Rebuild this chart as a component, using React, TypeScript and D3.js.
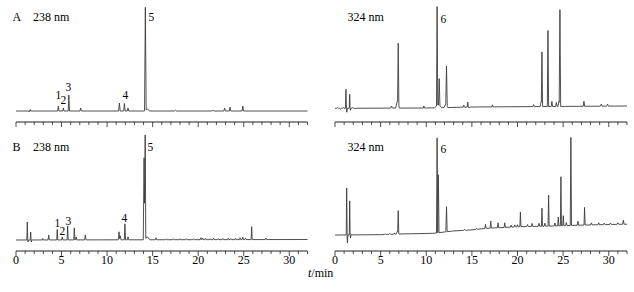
import React from "react";
import * as d3 from "d3";

// ---- data: peaks as [retention time (min), height (signal units), half width (min)] ----
const peaksA238: [number, number, number][] = [
  [1.45, -1, 0.08], [1.55, 1.5, 0.06],
  [4.65, 5, 0.07], [5.2, 3, 0.07], [5.8, 16, 0.07], [7.1, 3, 0.08],
  [11.35, 8, 0.09], [11.9, 7.5, 0.08], [12.3, 3, 0.08],
  [14.2, 103, 0.09], [14.4, 2, 0.3],
  [17.5, 0.8, 0.1], [21.6, 1, 0.1], [22.9, 3, 0.08], [23.5, 4, 0.08], [24.9, 5, 0.08],
];
const baseA238: [number, number][] = [[0, 0], [32, 0]];

const peaksA324: [number, number, number][] = [
  [0.3, 0.8, 0.1], [0.6, -0.8, 0.1], [0.9, 0.8, 0.1],
  [1.2, 19, 0.05], [1.3, -4, 0.05], [1.61, 14, 0.05], [1.7, -2, 0.05], [1.95, 0.8, 0.1], [2.2, -0.6, 0.1],
  [6.2, 2, 0.1], [6.85, 8, 0.2], [6.93, 60, 0.07],
  [9.74, 2, 0.06],
  [11.3, 3, 0.4], [11.19, 99, 0.07], [11.42, 27, 0.08],
  [12.15, 4, 0.2], [12.22, 39, 0.08],
  [14.11, 2, 0.07], [14.55, 5, 0.07], [14.7, -1, 0.1],
  [17.25, 2, 0.07], [21.77, 2, 0.08],
  [22.6, 5, 0.12], [22.68, 53, 0.07], [23.34, 76, 0.07], [23.77, 5, 0.08], [24.26, 4, 0.08],
  [24.55, 5, 0.12], [24.65, 96, 0.08], [27.28, 5, 0.08], [29.18, 2, 0.1], [29.87, 2, 0.1],
];
const baseA324: [number, number][] = [[0, 0], [10, 0.3], [15, 1.3], [32, 2.3]];

const peaksB238: [number, number, number][] = [
  [1.24, 18, 0.05], [1.32, -2, 0.05], [1.61, 8, 0.05], [1.68, -2, 0.05],
  [2.93, 1.5, 0.06], [3.59, 5, 0.07], [4.53, 10.5, 0.06], [5.08, 3, 0.06], [5.67, 14, 0.06],
  [6.4, 12, 0.06], [6.6, 3, 0.08], [7.61, 5, 0.08],
  [11.31, 8, 0.08], [11.45, 4, 0.08], [11.96, 16, 0.07], [12.3, 3, 0.08],
  [14.06, 82, 0.09], [14.18, 104, 0.07], [14.4, 3, 0.3],
  [15.37, 2, 0.08], [16.5, 1, 0.08], [17.3, 1, 0.08], [18.0, 1, 0.08], [18.7, 1, 0.08],
  [19.5, 1, 0.08], [20.3, 2, 0.08], [20.5, 1.5, 0.08], [20.8, 1.5, 0.08], [21.3, 1, 0.08],
  [21.7, 1.5, 0.08], [22.2, 1, 0.08], [22.7, 1.2, 0.08], [23.3, 1.5, 0.08], [23.6, 1, 0.08],
  [24.1, 1.5, 0.08], [24.6, 2, 0.08], [24.9, 2.5, 0.08], [25.2, 1.5, 0.08],
  [25.87, 13, 0.06], [27.44, 1.5, 0.08],
];
const baseB238: [number, number][] = [[0, 0], [32, 0.5]];

const peaksB324: [number, number, number][] = [
  [1.28, 47, 0.05], [1.36, -8, 0.05], [1.61, 34, 0.05], [1.7, -3, 0.05],
  [5.5, 0.8, 0.1], [6.0, 1, 0.1], [6.5, 1.2, 0.1],
  [6.85, 3, 0.15], [6.93, 22, 0.06],
  [11.19, 95, 0.07], [11.33, 58, 0.07], [12.22, 25, 0.07],
  [14.2, 1, 0.1], [15.5, 1, 0.1], [16.49, 4, 0.07], [17.07, 7, 0.07], [17.87, 5, 0.07],
  [18.6, 4.6, 0.07], [19.3, 2, 0.08], [19.7, 2, 0.08], [20.0, 2, 0.08], [20.32, 14.7, 0.06],
  [21.1, 2, 0.08], [21.6, 3, 0.08], [22.35, 3, 0.08], [22.68, 18, 0.06], [23.0, 3, 0.08],
  [23.41, 31, 0.06], [24.1, 3, 0.08], [24.47, 8.7, 0.06], [24.76, 49, 0.06], [25.02, 10, 0.06],
  [25.35, 3, 0.08], [25.85, 88, 0.07], [26.62, 4, 0.08], [27.35, 17.7, 0.06],
  [28.1, 2, 0.08], [28.9, 2, 0.08], [29.5, 1.5, 0.1], [30.2, 1.5, 0.1], [31.0, 1.5, 0.1], [31.6, 4, 0.08],
];
const baseB324: [number, number][] = [
  [0, 0], [5, 0.3], [7, 1], [10.8, 1.7], [12.9, 4], [14.8, 5], [16.6, 6.7],
  [20.2, 8.3], [23.9, 9], [27.5, 10], [31.2, 10.7], [32, 10.8],
];

const tickLabels = [0, 5, 10, 15, 20, 25, 30];
const timeDomain: [number, number] = [0, 32];

const peakLabelsA238 = [
  { text: "1", t: 4.45 }, { text: "2", t: 5.0 }, { text: "3", t: 5.6 }, { text: "4", t: 11.75 }, { text: "5", t: 14.65 },
];

type Panel = {
  peaks: [number, number, number][];
  base: [number, number][];
  x0: number; x1: number; baseY: number; axisY: number;
};

function buildTrace(peaks: [number, number, number][], base: [number, number][]) {
  const baseFn = d3.scaleLinear().domain(base.map((b) => b[0])).range(base.map((b) => b[1])).clamp(true);
  const ts = new Set<number>([timeDomain[0], timeDomain[1], ...base.map((b) => b[0])]);
  peaks.forEach(([t, , w]) => { ts.add(t - w); ts.add(t); ts.add(t + w); });
  const sorted = Array.from(ts).filter((t) => t >= 0 && t <= 32).sort((a, b) => a - b);
  return sorted.map((t) => {
    let v = baseFn(t);
    peaks.forEach(([pt, h, w]) => {
      const d = Math.abs(t - pt);
      if (d < w) v += h * (1 - d / w);
    });
    return [t, v] as [number, number];
  });
}

function Trace({ p }: { p: Panel }) {
  const x = d3.scaleLinear().domain(timeDomain).range([p.x0, p.x1]);
  const y = d3.scaleLinear().domain([0, 100]).range([p.baseY, p.baseY - 100]);
  const line = d3.line<[number, number]>().x((d) => x(d[0])).y((d) => y(d[1]));
  const pts = buildTrace(p.peaks, p.base);
  return <path d={line(pts) || ""} fill="none" stroke="#3c3c3c" strokeWidth={0.9} />;
}

function Axis({ x0, x1, y, labels }: { x0: number; x1: number; y: number; labels: boolean }) {
  const x = d3.scaleLinear().domain(timeDomain).range([x0, x1]);
  const ticks = x.ticks(32);
  return (
    <g>
      <line x1={x(0)} x2={x(32)} y1={y} y2={y} stroke="#222" strokeWidth={1} />
      {ticks.map((t) => {
        const major = tickLabels.includes(t);
        return (
          <line key={t} x1={x(t)} x2={x(t)} y1={y} y2={y + (major ? 5 : 3)} stroke="#222" strokeWidth={0.8} />
        );
      })}
      {labels &&
        tickLabels.map((t) => (
          <text key={"l" + t} x={x(t)} y={y + 13} textAnchor="middle" fontSize={12}>
            {t}
          </text>
        ))}
    </g>
  );
}

export default function App() {
  const panels: Panel[] = [
    { peaks: peaksA238, base: baseA238, x0: 16, x1: 307.5, baseY: 111, axisY: 122 },
    { peaks: peaksA324, base: baseA324, x0: 335, x1: 627, baseY: 108.3, axisY: 122 },
    { peaks: peaksB238, base: baseB238, x0: 16, x1: 307.5, baseY: 240, axisY: 251 },
    { peaks: peaksB324, base: baseB324, x0: 335, x1: 627, baseY: 235, axisY: 251 },
  ];
  const font = "'Liberation Serif', 'Times New Roman', serif";
  return (
    <svg
      width={634}
      height={292}
      style={{ position: "absolute", left: 0, top: 0, background: "#fff" }}
      fontFamily={font}
    >
      <rect width={634} height={292} fill="#fff" />
      {panels.map((p, i) => (
        <g key={i}>
          <Trace p={p} />
          <Axis x0={p.x0} x1={p.x1} y={p.axisY} labels={i >= 2} />
        </g>
      ))}
      {/* panel titles */}
      <text x={12.5} y={21} fontSize={12}>A</text>
      <text x={33} y={21} fontSize={12}>238 nm</text>
      <text x={347.5} y={21} fontSize={12}>324 nm</text>
      <text x={12.5} y={151} fontSize={12}>B</text>
      <text x={33} y={151} fontSize={12}>238 nm</text>
      <text x={347.5} y={151} fontSize={12}>324 nm</text>
      {/* peak labels A 238 */}
      <text x={55.5} y={99} fontSize={11.5}>1</text>
      <text x={60.5} y={103.5} fontSize={11.5}>2</text>
      <text x={65.5} y={91} fontSize={11.5}>3</text>
      <text x={122.5} y={99} fontSize={11.5}>4</text>
      <text x={148.5} y={21} fontSize={11.5}>5</text>
      <text x={440.5} y={23} fontSize={11.5}>6</text>
      {/* peak labels B */}
      <text x={54.5} y={226.7} fontSize={11.5}>1</text>
      <text x={59.5} y={234.5} fontSize={11.5}>2</text>
      <text x={65.5} y={224.5} fontSize={11.5}>3</text>
      <text x={121.5} y={222} fontSize={11.5}>4</text>
      <text x={147.5} y={151} fontSize={11.5}>5</text>
      <text x={440.5} y={152.5} fontSize={11.5}>6</text>
      {/* x-axis title */}
      <text x={308} y={277} fontSize={12}>
        <tspan fontStyle="italic">t</tspan>/min
      </text>
    </svg>
  );
}
